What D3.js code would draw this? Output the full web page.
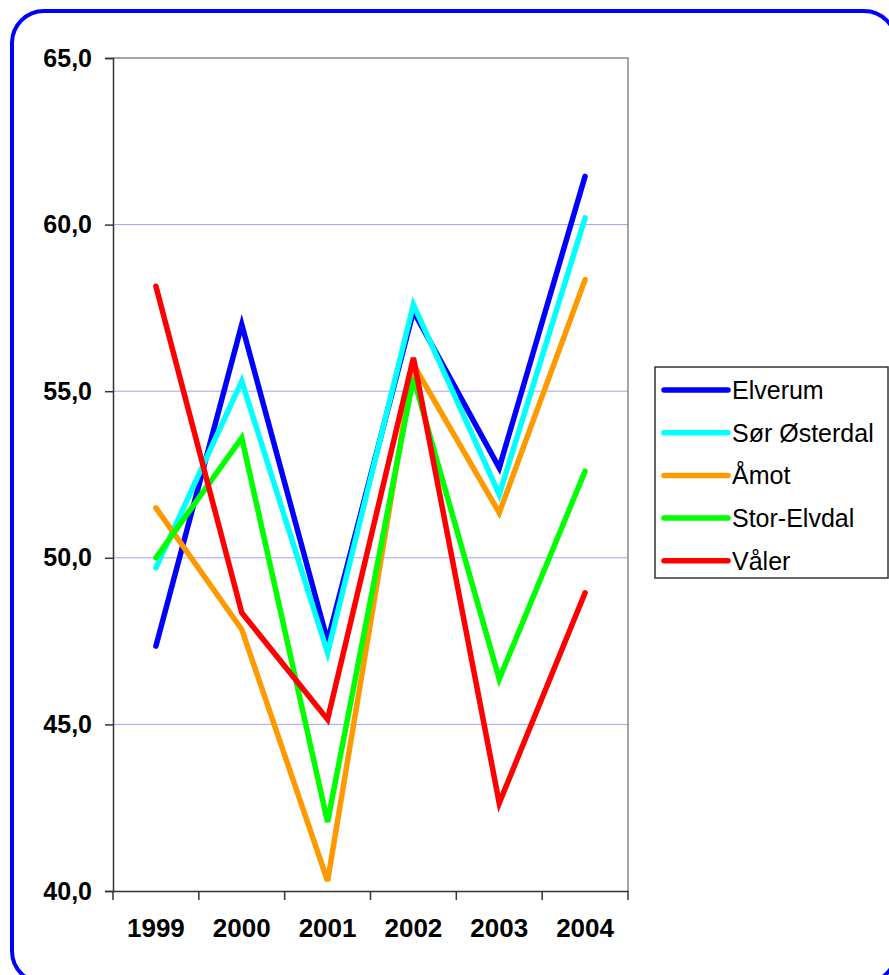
<!DOCTYPE html>
<html>
<head>
<meta charset="utf-8">
<script src="https://cdn.jsdelivr.net/npm/d3@7"></script>
<style>
  body { margin: 0; background: #fff; }
  svg { display: block; }
</style>
</head>
<body>
<svg id="chart"></svg>
<script>
// data
const years = ['1999', '2000', '2001', '2002', '2003', '2004'];
const elverum = [47.35, 57.0, 47.5, 57.4, 52.7, 61.45];
const sorOsterdal = [49.7, 55.3, 47.15, 57.6, 51.9, 60.2];
const amot = [51.5, 47.85, 40.3, 55.8, 51.35, 58.35];
const storElvdal = [50.0, 53.6, 42.07, 55.4, 46.36, 52.6];
const valer = [58.15, 48.35, 45.15, 56.0, 42.64, 48.95];
const seriesNames = ['Elverum', 'Sør Østerdal', 'Åmot', 'Stor-Elvdal', 'Våler'];
const seriesColors = ['#0000ff', '#00ffff', '#ff9900', '#00ff00', '#ff0000'];
const yTicks = [40, 45, 50, 55, 60, 65];

const series = [elverum, sorOsterdal, amot, storElvdal, valer].map((v, i) => ({
    name: seriesNames[i], color: seriesColors[i], values: v
}));

const w = 889, h = 975;
const font = 'Liberation Sans, Arial, sans-serif';
const svg = d3.select('#chart')
    .attr('width', w)
    .attr('height', h);

//outer rounded border
svg.append('rect')
    .attr('x', 12)
    .attr('y', 11)
    .attr('width', 884)
    .attr('height', 972)
    .attr('rx', 32)
    .attr('fill', 'white')
    .attr('stroke', '#0000ff')
    .attr('stroke-width', 4);

const plotL = 113, plotR = 628, plotT = 58, plotB = 891;

const x = d3.scaleBand().domain(years).range([plotL, plotR]);
const y = d3.scaleLinear().domain([40, 65]).range([plotB, plotT]);

//gridlines
svg.append('g')
    .selectAll('line')
    .data(yTicks.filter(d => d > 40 && d < 65))
    .enter()
    .append('line')
    .attr('x1', plotL)
    .attr('x2', plotR)
    .attr('y1', d => y(d))
    .attr('y2', d => y(d))
    .attr('stroke', '#a0a0f8')
    .attr('stroke-width', 1);

//plot frame top and right
svg.append('path')
    .attr('d', 'M' + plotL + ',' + plotT + 'H' + plotR + 'V' + plotB)
    .attr('fill', 'none')
    .attr('stroke', '#888')
    .attr('stroke-width', 1.5);

//y axis
const yAxis = svg.append('g')
    .attr('transform', 'translate(' + plotL + ',0)')
    .call(d3.axisLeft(y).tickValues(yTicks).tickSize(8).tickPadding(13)
        .tickFormat(d => d3.format('.1f')(d).replace('.', ',')));
yAxis.select('.domain').attr('stroke', '#333').attr('stroke-width', 1.5);
yAxis.selectAll('.tick line').attr('stroke', '#333').attr('stroke-width', 1.5);
yAxis.selectAll('text')
    .attr('font-family', font)
    .attr('font-size', '25px')
    .attr('font-weight', 'bold')
    .attr('fill', '#000');

//x axis
const xAxis = svg.append('g')
    .attr('transform', 'translate(0,' + plotB + ')')
    .call(d3.axisBottom(x).tickSize(0).tickPadding(28));
xAxis.select('.domain').attr('stroke', '#333').attr('stroke-width', 1.5);
xAxis.selectAll('text')
    .attr('font-family', font)
    .attr('font-size', '26px')
    .attr('font-weight', 'bold')
    .attr('fill', '#000');

//x ticks at category boundaries
xAxis.selectAll('.bound')
    .data(years.concat(['end']))
    .enter()
    .append('line')
    .attr('class', 'bound')
    .attr('x1', (d, i) => plotL + i * x.step())
    .attr('x2', (d, i) => plotL + i * x.step())
    .attr('y1', 0)
    .attr('y2', 9)
    .attr('stroke', '#333')
    .attr('stroke-width', 1.5);

//lines
const line = d3.line()
    .x((d, i) => x(years[i]) + x.bandwidth() / 2)
    .y(d => y(d));

svg.append('g')
    .selectAll('path')
    .data(series)
    .enter()
    .append('path')
    .attr('d', d => line(d.values))
    .attr('fill', 'none')
    .attr('stroke', d => d.color)
    .attr('stroke-width', 5.5)
    .attr('stroke-linejoin', 'miter')
    .attr('stroke-linecap', 'round');

//legend
const legend = svg.append('g')
    .attr('transform', 'translate(655,367)');

legend.append('rect')
    .attr('width', 233)
    .attr('height', 211)
    .attr('fill', 'white')
    .attr('stroke', '#333')
    .attr('stroke-width', 1.5);

const items = legend.selectAll('g')
    .data(series)
    .enter()
    .append('g')
    .attr('transform', (d, i) => 'translate(0,' + (23 + i * 42.7) + ')');

items.append('line')
    .attr('x1', 9)
    .attr('x2', 73)
    .attr('stroke', d => d.color)
    .attr('stroke-width', 5.5)
    .attr('stroke-linecap', 'round');

items.append('text')
    .attr('x', 77)
    .attr('y', 9)
    .attr('font-family', font)
    .attr('font-size', '25px')
    .attr('fill', '#000')
    .text(d => d.name);
</script>
</body>
</html>
